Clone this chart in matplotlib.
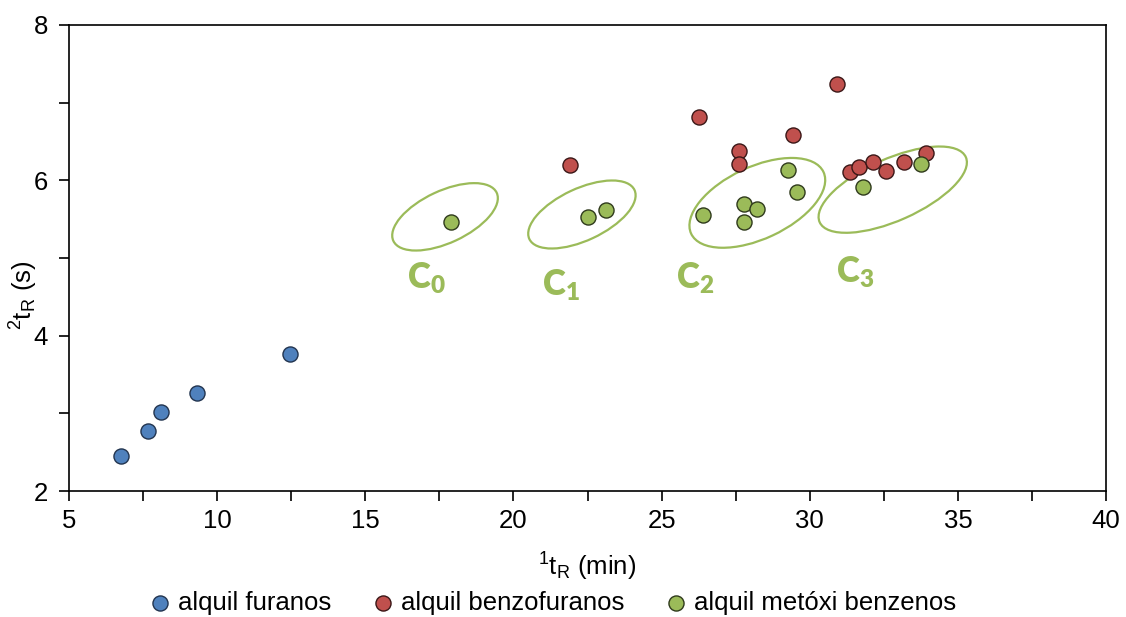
import matplotlib
matplotlib.use("Agg")
import matplotlib.pyplot as plt
from matplotlib.patches import Ellipse
from matplotlib.transforms import ScaledTranslation
from matplotlib.ticker import MultipleLocator

plt.rcParams['font.family'] = ['Liberation Sans', 'DejaVu Sans']
plt.rcParams['mathtext.default'] = 'regular'

# retention times: first dimension (min), second dimension (s)
furanos_t1 = [6.76, 7.67, 8.10, 9.32, 12.46]
furanos_t2 = [2.45, 2.77, 3.02, 3.26, 3.76]

benzofuranos_t1 = [21.91, 26.27, 27.62, 27.62, 29.42, 30.93, 31.36, 31.67, 32.13, 32.57, 33.18, 33.92]
benzofuranos_t2 = [6.20, 6.82, 6.38, 6.21, 6.58, 7.24, 6.11, 6.17, 6.24, 6.12, 6.24, 6.35]

metoxi_t1 = [17.88, 22.53, 23.12, 26.41, 27.78, 28.23, 27.78, 29.26, 29.56, 31.79, 33.77]
metoxi_t2 = [5.46, 5.53, 5.62, 5.56, 5.70, 5.63, 5.46, 6.13, 5.85, 5.91, 6.21]

# cluster outlines: centre (data), semi-axes (px), tilt (deg), label anchor (data)
cluster_names = ['C$_0$', 'C$_1$', 'C$_2$', 'C$_3$']
cluster_cx = [17.69, 22.31, 28.23, 32.80]
cluster_cy = [5.53, 5.56, 5.71, 5.88]
cluster_a = [57, 58, 73, 80]
cluster_b = [26, 26, 36, 31]
cluster_ang = [25, 25, 25, 24]
label_x = [17.05, 21.60, 26.13, 31.53]
label_y = [4.74, 4.65, 4.74, 4.82]

blue, red, green = '#4F81BD', '#C0504D', '#9BBB59'

fig = plt.figure(figsize=(11.26, 6.17), dpi=100)
ax = fig.add_axes([0.0613, 0.2042, 0.921, 0.7553])

ms = 118
ax.scatter(furanos_t1, furanos_t2, s=ms, c=blue, edgecolors='#22344f', linewidths=1.0,
           label='alquil furanos', zorder=3)
ax.scatter(benzofuranos_t1, benzofuranos_t2, s=ms, c=red, edgecolors='#3a1717', linewidths=1.0,
           label='alquil benzofuranos', zorder=3)
ax.scatter(metoxi_t1, metoxi_t2, s=ms, c=green, edgecolors='#2f3a1c', linewidths=1.0,
           label='alquil metóxi benzenos', zorder=3)

for name, cx, cy, a, b, ang, lx, ly in zip(cluster_names, cluster_cx, cluster_cy,
                                          cluster_a, cluster_b, cluster_ang, label_x, label_y):
    tr = fig.dpi_scale_trans + ScaledTranslation(cx, cy, ax.transData)
    e = Ellipse((0, 0), 2 * a / 100, 2 * b / 100, angle=ang, transform=tr,
                fill=False, edgecolor=green, linewidth=1.6, zorder=2)
    ax.add_patch(e)
    ax.text(lx, ly, name, color=green, fontsize=25, fontweight='heavy',
            family=['Lato', 'DejaVu Sans'], ha='center', va='center')

ax.set_xlim(5, 40)
ax.set_ylim(2, 8)
ax.xaxis.set_major_locator(MultipleLocator(5))
ax.xaxis.set_minor_locator(MultipleLocator(2.5))
ax.yaxis.set_major_locator(MultipleLocator(2))
ax.yaxis.set_minor_locator(MultipleLocator(1))
ax.tick_params(which='both', direction='out', length=7, width=1.2, colors='black',
               labelsize=18.5, top=False, right=False)
ax.tick_params(axis='x', pad=6)
ax.tick_params(axis='y', pad=8)
for sp in ax.spines.values():
    sp.set_linewidth(1.2)

ax.set_xlabel(r'$^{1}t_{R}$ (min)', fontsize=18.5)
ax.set_ylabel(r'$^{2}t_{R}$ (s)', fontsize=18.5)
ax.xaxis.set_label_coords(0.5, -0.129)
ax.yaxis.set_label_coords(-0.028, 0.42)

fig.legend(loc='center', bbox_to_anchor=(0.491, 1 - 603 / 617), ncol=3, frameon=False,
           fontsize=18.5, handlelength=0.8, handletextpad=0.3, columnspacing=1.6,
           borderpad=0, markerscale=1.0)

fig.savefig('out.png', dpi=100)
